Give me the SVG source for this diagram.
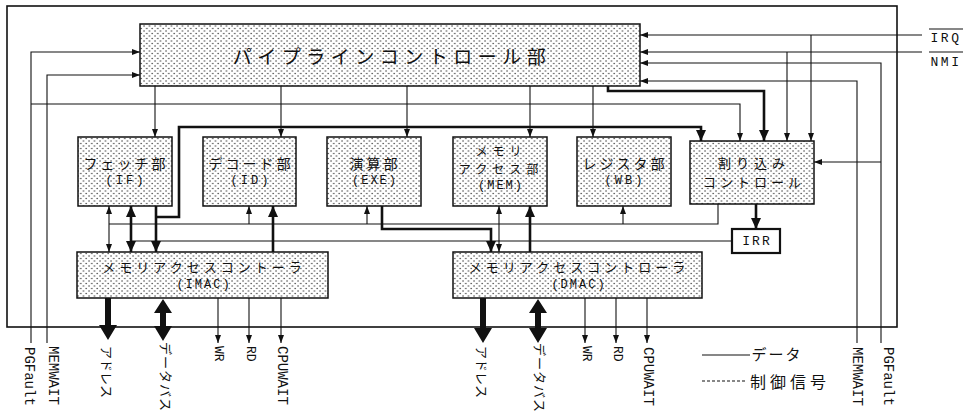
<svg xmlns="http://www.w3.org/2000/svg" width="968" height="415" viewBox="0 0 968 415">
<style>
.box{fill:url(#dots);stroke:#111;stroke-width:1.5}
.frame{fill:none;stroke:#111;stroke-width:1.6}
.ln{fill:none;stroke:#111;stroke-width:1.1}
.tk{fill:none;stroke:#111;stroke-width:2.6}
.bus{fill:#111;stroke:none}
.jp{font-family:"Noto Sans CJK JP","Noto Sans CJK SC",sans-serif;fill:#111;text-anchor:middle;dominant-baseline:central}
.mn{font-family:"Liberation Mono","DejaVu Sans Mono",monospace;fill:#111;text-anchor:middle;dominant-baseline:central}
.rot{text-anchor:start}
</style>
<defs>
<pattern id="dots" width="5.5" height="5" patternUnits="userSpaceOnUse">
<rect width="5.5" height="5" fill="#fff"/>
<circle cx="1" cy="1" r="0.7" fill="#333"/>
<circle cx="3.75" cy="3.5" r="0.7" fill="#333"/>
</pattern>
<marker id="ah" viewBox="0 0 8 6" refX="8" refY="3" markerWidth="8" markerHeight="6" markerUnits="userSpaceOnUse" orient="auto-start-reverse"><path d="M0,0L8,3L0,6z" fill="#111"/></marker>
<marker id="AH" viewBox="0 0 11 10" refX="11" refY="5" markerWidth="11" markerHeight="10" markerUnits="userSpaceOnUse" orient="auto-start-reverse"><path d="M0,0L11,5L0,10z" fill="#111"/></marker>
</defs>
<rect width="968" height="415" fill="#fff"/>

<g id="cpu-frame"><rect class="frame" x="7" y="6" width="890" height="321"/></g>

<g id="connectors">
<path class="ln" d="M31,343V52H140" marker-end="url(#ah)"/>
<path class="ln" d="M31,104H740V141" marker-end="url(#ah)"/>
<path class="ln" d="M47,343V75H140" marker-end="url(#ah)"/>
<path class="ln" d="M922,35H640" marker-end="url(#ah)"/>
<path class="ln" d="M811,35V141" marker-end="url(#ah)"/>
<path class="ln" d="M922,52H640" marker-end="url(#ah)"/>
<path class="ln" d="M787,52V141" marker-end="url(#ah)"/>
<path class="ln" d="M881,343V63H640" marker-end="url(#ah)"/>
<path class="ln" d="M881,162H814" marker-end="url(#ah)"/>
<path class="ln" d="M857,343V81H640" marker-end="url(#ah)"/>
<path class="ln" d="M155,86V137" marker-end="url(#ah)"/>
<path class="ln" d="M281,86V137" marker-end="url(#ah)"/>
<path class="ln" d="M407,86V137" marker-end="url(#ah)"/>
<path class="ln" d="M530,86V137" marker-end="url(#ah)"/>
<path class="ln" d="M593,86V137" marker-end="url(#ah)"/>
<path class="tk" d="M608,86V91H764V141" marker-end="url(#AH)"/>
<path class="tk" d="M156,206V252" marker-end="url(#AH)"/>
<path class="tk" d="M156,217H179V127H701V141" marker-end="url(#AH)"/>
<path class="ln" d="M109,206V252" marker-start="url(#ah)" marker-end="url(#ah)"/>
<path class="tk" d="M131,206V252" marker-start="url(#AH)" marker-end="url(#AH)"/>
<path class="ln" d="M718,204V224H109"/>
<path class="ln" d="M249,224V206" marker-end="url(#ah)"/>
<path class="ln" d="M367,224V206" marker-end="url(#ah)"/>
<path class="ln" d="M623,224V206" marker-end="url(#ah)"/>
<path class="ln" d="M732,241H131"/>
<path class="tk" d="M273,252V206" marker-end="url(#AH)"/>
<path class="tk" d="M382,206V229H491V252" marker-end="url(#AH)"/>
<path class="ln" d="M499,206V252" marker-start="url(#ah)" marker-end="url(#ah)"/>
<path class="tk" d="M530,252V206" marker-end="url(#AH)"/>
<path class="tk" d="M756,204V229" marker-end="url(#AH)"/>
<path class="bus" d="M105,298H111V325H117L108,340L99,325H105Z"/>
<path class="bus" d="M163,299L172,313H166V326H172L163,341L154,326H160V313H154Z"/>
<path class="ln" d="M218,298V343" marker-end="url(#ah)"/>
<path class="ln" d="M249,298V343" marker-end="url(#ah)"/>
<path class="ln" d="M281,298V343" marker-end="url(#ah)"/>
<path class="bus" d="M480,298H486V328H492L483,343L474,328H480Z"/>
<path class="bus" d="M538,299L547,313H541V328H547L538,343L529,328H535V313H529Z"/>
<path class="ln" d="M585,298V343" marker-end="url(#ah)"/>
<path class="ln" d="M616,298V343" marker-end="url(#ah)"/>
<path class="ln" d="M647,298V343" marker-end="url(#ah)"/>
</g>

<g id="pipeline">
<rect class="box" x="140" y="24" width="500" height="62"/>
<text class="jp" x="392" y="55" font-size="19" letter-spacing="5.5">パイプラインコントロール部</text>
</g>
<g id="fetch">
<rect class="box" x="78" y="137" width="94" height="69"/>
<text class="jp" x="126" y="163" font-size="14" letter-spacing="3">フェッチ部</text>
<text class="mn" x="126" y="181" font-size="12" letter-spacing="3">(IF)</text>
</g>
<g id="decode">
<rect class="box" x="203" y="137" width="93" height="69"/>
<text class="jp" x="251" y="163" font-size="14" letter-spacing="3">デコード部</text>
<text class="mn" x="251" y="181" font-size="12" letter-spacing="3">(ID)</text>
</g>
<g id="exe">
<rect class="box" x="327" y="137" width="94" height="69"/>
<text class="jp" x="375" y="163" font-size="14" letter-spacing="3">演算部</text>
<text class="mn" x="375" y="181" font-size="12" letter-spacing="2">(EXE)</text>
</g>
<g id="mem">
<rect class="box" x="453" y="137" width="94" height="69"/>
<text class="jp" x="501" y="150" font-size="12" letter-spacing="5">メモリ</text>
<text class="jp" x="501" y="168" font-size="12" letter-spacing="5">アクセス部</text>
<text class="mn" x="501" y="186" font-size="12" letter-spacing="2">(MEM)</text>
</g>
<g id="wb">
<rect class="box" x="577" y="137" width="94" height="69"/>
<text class="jp" x="625" y="163" font-size="14" letter-spacing="3">レジスタ部</text>
<text class="mn" x="625" y="181" font-size="12" letter-spacing="3">(WB)</text>
</g>
<g id="intctl">
<rect class="box" x="690" y="141" width="124" height="63"/>
<text class="jp" x="754" y="162" font-size="13" letter-spacing="5">割り込み</text>
<text class="jp" x="754" y="181" font-size="13" letter-spacing="4">コントロール</text>
</g>
<g id="irr">
<rect x="732" y="229" width="48" height="24" fill="#fff" stroke="#111" stroke-width="2.2"/>
<text class="mn" x="757" y="241" font-size="13" letter-spacing="2">IRR</text>
</g>
<g id="imac">
<rect class="box" x="77" y="252" width="251" height="46"/>
<text class="jp" x="204" y="266" font-size="13" letter-spacing="4">メモリアクセスコントーラ</text>
<text class="mn" x="204" y="285" font-size="12" letter-spacing="2">(IMAC)</text>
</g>
<g id="dmac">
<rect class="box" x="453" y="252" width="249" height="46"/>
<text class="jp" x="579" y="266" font-size="13" letter-spacing="4">メモリアクセスコントローラ</text>
<text class="mn" x="579" y="285" font-size="12" letter-spacing="2">(DMAC)</text>
</g>

<g id="signal-labels">
<text class="mn" x="946" y="38" font-size="13" letter-spacing="2.5">IRQ</text>
<line class="ln" x1="929" y1="29" x2="963" y2="29"/>
<text class="mn" x="946" y="62" font-size="13" letter-spacing="2.5">NMI</text>
<line class="ln" x1="929" y1="52" x2="963" y2="52"/>
<text class="mn rot" font-size="14" transform="translate(29,347) rotate(90)">PGFault</text>
<text class="mn rot" font-size="14" transform="translate(53,346) rotate(90)">MEMWAIT</text>
<text class="jp rot" font-size="13" transform="translate(107,346) rotate(90)">アドレス</text>
<text class="jp rot" font-size="13" letter-spacing="1" transform="translate(166,342) rotate(90)">データバス</text>
<text class="mn rot" font-size="13" transform="translate(218,346) rotate(90)">WR</text>
<text class="mn rot" font-size="13" transform="translate(250,346) rotate(90)">RD</text>
<text class="mn rot" font-size="14" transform="translate(282,346) rotate(90)">CPUWAIT</text>
<text class="jp rot" font-size="13" transform="translate(482,346) rotate(90)">アドレス</text>
<text class="jp rot" font-size="13" letter-spacing="1" transform="translate(540,343) rotate(90)">データバス</text>
<text class="mn rot" font-size="13" transform="translate(586,346) rotate(90)">WR</text>
<text class="mn rot" font-size="13" transform="translate(617,346) rotate(90)">RD</text>
<text class="mn rot" font-size="14" transform="translate(648,347) rotate(90)">CPUWAIT</text>
<text class="mn rot" font-size="14" transform="translate(857,347) rotate(90)">MEMWAIT</text>
<text class="mn rot" font-size="14" transform="translate(888,347) rotate(90)">PGFault</text>
</g>

<g id="legend">
<line class="ln" x1="702" y1="355" x2="750" y2="355"/>
<text class="jp" x="777" y="353" font-size="15" letter-spacing="2">データ</text>
<line class="ln" x1="702" y1="381" x2="747" y2="381" stroke-dasharray="3,2"/>
<text class="jp" x="790" y="381" font-size="16" letter-spacing="4">制御信号</text>
</g>
</svg>
